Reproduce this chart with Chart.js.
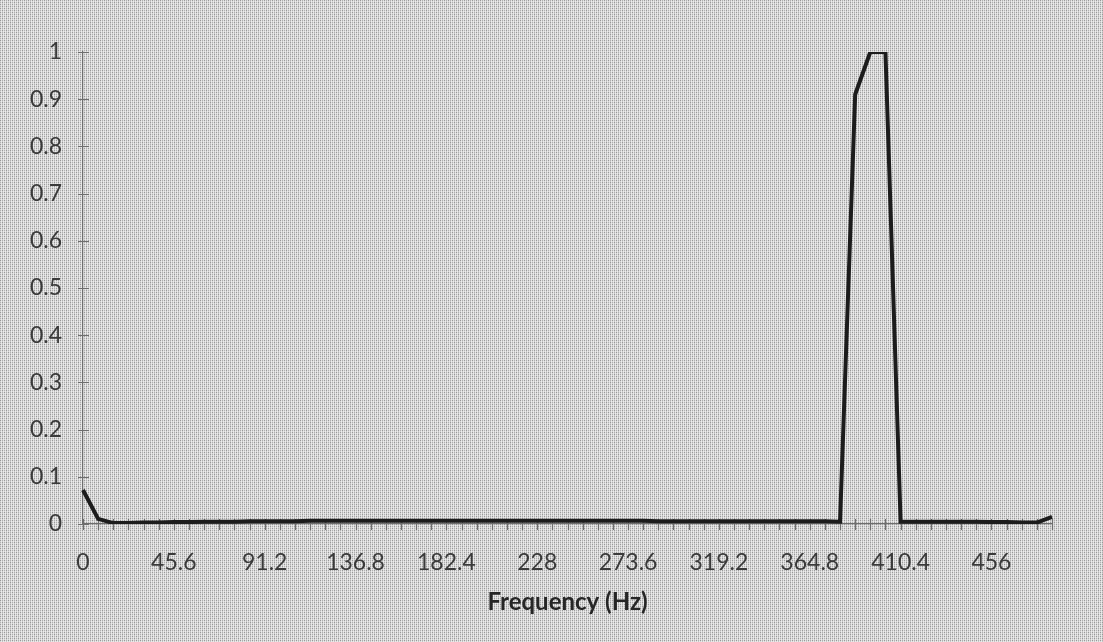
<!DOCTYPE html>
<html>
<head>
<meta charset="utf-8">
<title>Frequency response</title>
<script src="https://cdn.jsdelivr.net/npm/chart.js@4.4.1/dist/chart.umd.min.js"></script>
<style>
  html, body { margin: 0; padding: 0; background: #d2d2d2; overflow: hidden; }
  #spectrumChart { display: block; }
</style>
</head>
<body>
<canvas id="spectrumChart" width="1103" height="642"></canvas>
<script>
// FFT bins, 7.6 Hz apart
const frequencies = [
    0, 7.6, 15.2, 22.8, 30.4, 38, 45.6, 53.2, 60.8, 68.4,
    76, 83.6, 91.2, 98.8, 106.4, 114, 121.6, 129.2, 136.8, 144.4,
    152, 159.6, 167.2, 174.8, 182.4, 190, 197.6, 205.2, 212.8, 220.4,
    228, 235.6, 243.2, 250.8, 258.4, 266, 273.6, 281.2, 288.8, 296.4,
    304, 311.6, 319.2, 326.8, 334.4, 342, 349.6, 357.2, 364.8, 372.4,
    380, 387.6, 395.2, 402.8, 410.4, 418, 425.6, 433.2, 440.8, 448.4,
    456, 463.6, 471.2, 478.8, 486.4
];

// Normalised magnitude per bin
const magnitudes = [
    0.072, 0.011, 0.002, 0.002, 0.003, 0.003, 0.004, 0.004, 0.005, 0.005,
    0.005, 0.006, 0.006, 0.006, 0.006, 0.007, 0.007, 0.007, 0.007, 0.007,
    0.007, 0.007, 0.007, 0.007, 0.007, 0.007, 0.007, 0.007, 0.007, 0.007,
    0.007, 0.007, 0.007, 0.007, 0.007, 0.007, 0.007, 0.007, 0.006, 0.006,
    0.006, 0.006, 0.006, 0.006, 0.006, 0.006, 0.006, 0.006, 0.006, 0.006,
    0.005, 0.91, 1.0, 1.0, 0.005, 0.005, 0.005, 0.005, 0.005, 0.005,
    0.004, 0.004, 0.003, 0.003, 0.015
];

const xTickLabels = ['0', '45.6', '91.2', '136.8', '182.4', '228', '273.6', '319.2', '364.8', '410.4', '456'];
const yTickLabels = ['0', '0.1', '0.2', '0.3', '0.4', '0.5', '0.6', '0.7', '0.8', '0.9', '1'];

const labelEvery = 6;
const axisColor = '#6e6e6e';

// Halftone-ish paper texture for the whole canvas
function makePaper(ctx) {
    const tile = document.createElement('canvas');
    tile.width = 4;
    tile.height = 4;
    const t = tile.getContext('2d');
    const shades = [
        ['#989898', '#e0e0e0', '#b0b0b0', '#e0e0e0'],
        ['#d4d4d4', '#ececec', '#c8c8c8', '#ececec'],
        ['#b0b0b0', '#e0e0e0', '#989898', '#e0e0e0'],
        ['#d4d4d4', '#ececec', '#c8c8c8', '#ececec']
    ];
    shades.forEach((row, y) => row.forEach((c, x) => {
        t.fillStyle = c;
        t.fillRect(x, y, 1, 1);
    }));
    return ctx.createPattern(tile, 'repeat');
}

const paperBackground = {
    id: 'paperBackground',
    beforeDraw(chart) {
        const ctx = chart.ctx;
        ctx.save();
        ctx.fillStyle = makePaper(ctx);
        ctx.fillRect(0, 0, chart.width, chart.height);
        ctx.restore();
    }
};

// Tick marks that cross the axis lines
const crossTicks = {
    id: 'crossTicks',
    beforeDatasetsDraw(chart) {
        const ctx = chart.ctx;
        const x = chart.scales.x;
        const y = chart.scales.y;
        const area = chart.chartArea;
        ctx.save();
        ctx.strokeStyle = axisColor;
        ctx.lineWidth = 1.2;
        ctx.beginPath();
        x.ticks.forEach((t, i) => {
            const px = Math.round(x.getPixelForTick(i)) + 0.5;
            ctx.moveTo(px, area.bottom - 5);
            ctx.lineTo(px, area.bottom + 6);
        });
        y.ticks.forEach((t, i) => {
            const py = Math.round(y.getPixelForTick(i)) + 0.5;
            ctx.moveTo(area.left - 5, py);
            ctx.lineTo(area.left + 6, py);
        });
        ctx.stroke();
        ctx.restore();
    }
};

const ctx = document.getElementById('spectrumChart').getContext('2d');
new Chart(ctx, {
    type: 'line',
    data: {
        labels: frequencies,
        datasets: [{
            data: magnitudes,
            borderColor: '#1c1c1c',
            borderWidth: 4,
            pointRadius: 0,
            tension: 0,
            fill: false
        }]
    },
    options: {
        responsive: false,
        animation: false,
        layout: { padding: { top: 52, right: 51, bottom: 0, left: 0 } },
        plugins: {
            legend: { display: false },
            tooltip: { enabled: false }
        },
        scales: {
            x: {
                type: 'category',
                offset: false,
                grid: { display: false, drawTicks: false },
                border: { display: true, color: axisColor, width: 1.2 },
                ticks: {
                    autoSkip: false,
                    maxRotation: 0,
                    padding: 25,
                    color: '#3a3a3a',
                    font: { family: 'Lato', size: 23 },
                    callback: (val, index) => index % labelEvery === 0 ? xTickLabels[index / labelEvery] : ''
                },
                title: {
                    display: true,
                    text: 'Frequency (Hz)',
                    color: '#262626',
                    font: { family: 'Lato', size: 24, weight: 'bold' },
                    padding: { top: 0, bottom: 25 }
                },
                afterFit: scale => { scale.height = 118; }
            },
            y: {
                min: 0,
                max: 1,
                grid: { display: false, drawTicks: false },
                border: { display: true, color: axisColor, width: 1.2 },
                ticks: {
                    stepSize: 0.1,
                    padding: 21,
                    color: '#3a3a3a',
                    font: { family: 'Lato', size: 23 },
                    callback: (val, index) => yTickLabels[index]
                },
                afterFit: scale => { scale.width = 83; }
            }
        }
    },
    plugins: [paperBackground, crossTicks]
});
</script>
</body>
</html>
